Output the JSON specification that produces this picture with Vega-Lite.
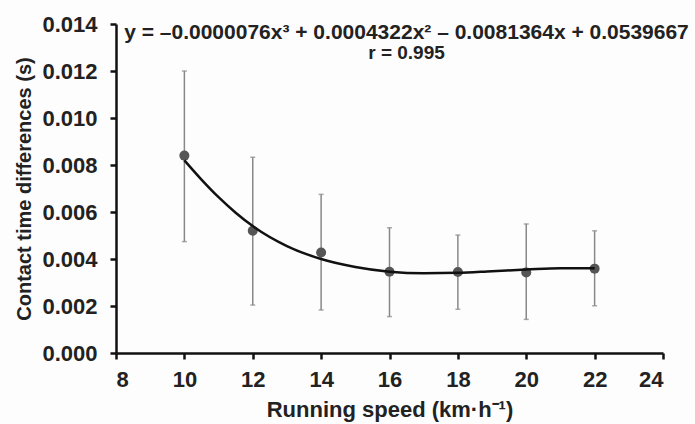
{
  "$schema": "https://vega.github.io/schema/vega-lite/v6.json",
  "width": 547,
  "height": 329,
  "autosize": {"type": "none"},
  "padding": {"left": 116, "top": 24, "right": 32, "bottom": 71},
  "background": "#fdfdfd",
  "title": {
    "text": "y = –0.0000076x³ + 0.0004322x² – 0.0081364x + 0.0539667",
    "subtitle": "r = 0.995",
    "anchor": "middle",
    "orient": "top",
    "offset": -50,
    "dx": 17,
    "font": "Liberation Sans",
    "fontSize": 21,
    "fontWeight": "bold",
    "color": "#222",
    "subtitleFont": "Liberation Sans",
    "subtitleFontSize": 19,
    "subtitleFontWeight": "bold",
    "subtitleColor": "#222",
    "subtitlePadding": 1
  },
  "datasets": {
    "points": [
      {"speed": 10, "diff": 0.0084, "lo": 0.00474, "hi": 0.0120},
      {"speed": 12, "diff": 0.0052, "lo": 0.00204, "hi": 0.00833},
      {"speed": 14, "diff": 0.00428, "lo": 0.00183, "hi": 0.00675},
      {"speed": 16, "diff": 0.00346, "lo": 0.00155, "hi": 0.00533},
      {"speed": 18, "diff": 0.00345, "lo": 0.00186, "hi": 0.00502},
      {"speed": 20, "diff": 0.00343, "lo": 0.00143, "hi": 0.00549},
      {"speed": 22, "diff": 0.00359, "lo": 0.00201, "hi": 0.0052}
    ],
    "curve": [
      {"speed": 10, "fit": 0.0082},
      {"speed": 10.5, "fit": 0.00738},
      {"speed": 11, "fit": 0.00663},
      {"speed": 11.5, "fit": 0.00597},
      {"speed": 12, "fit": 0.0054},
      {"speed": 13, "fit": 0.00455},
      {"speed": 14, "fit": 0.004},
      {"speed": 15, "fit": 0.00366},
      {"speed": 16, "fit": 0.00346},
      {"speed": 17, "fit": 0.00339},
      {"speed": 18, "fit": 0.00341},
      {"speed": 19, "fit": 0.00348},
      {"speed": 20, "fit": 0.00355},
      {"speed": 21, "fit": 0.00361},
      {"speed": 22, "fit": 0.00361}
    ]
  },
  "config": {
    "view": {"stroke": null},
    "axis": {
      "domainColor": "#111",
      "domainWidth": 2.5,
      "tickColor": "#111",
      "tickWidth": 2.5,
      "tickSize": 6,
      "grid": false,
      "labelFont": "Liberation Sans",
      "labelFontSize": 22,
      "labelFontWeight": "bold",
      "labelColor": "#222",
      "titleFont": "Liberation Sans",
      "titleFontWeight": "bold",
      "titleColor": "#222"
    }
  },
  "layer": [
    {
      "data": {"name": "points"},
      "mark": {"type": "rule", "color": "#888", "strokeWidth": 1.5},
      "encoding": {
        "x": {"field": "speed", "type": "quantitative", "scale": {"domain": [8, 24], "nice": false},
              "axis": {"values": [8, 10, 12, 14, 16, 18, 20, 22, 24], "title": "Running speed (km·h⁻¹)", "titleFontSize": 22, "labelPadding": 10, "titlePadding": 9}},
        "y": {"field": "lo", "type": "quantitative", "scale": {"domain": [0, 0.014], "nice": false},
              "axis": {"values": [0, 0.002, 0.004, 0.006, 0.008, 0.01, 0.012, 0.014], "format": ".3f", "title": "Contact time differences (s)", "titleFontSize": 20, "labelPadding": 13, "titlePadding": 7}},
        "y2": {"field": "hi"}
      }
    },
    {
      "data": {"name": "points"},
      "mark": {"type": "tick", "orient": "horizontal", "color": "#888", "size": 5, "thickness": 1.5},
      "encoding": {
        "x": {"field": "speed", "type": "quantitative"},
        "y": {"field": "hi", "type": "quantitative"}
      }
    },
    {
      "data": {"name": "points"},
      "mark": {"type": "tick", "orient": "horizontal", "color": "#888", "size": 5, "thickness": 1.5},
      "encoding": {
        "x": {"field": "speed", "type": "quantitative"},
        "y": {"field": "lo", "type": "quantitative"}
      }
    },
    {
      "data": {"name": "points"},
      "mark": {"type": "circle", "color": "#555", "size": 100, "opacity": 1},
      "encoding": {
        "x": {"field": "speed", "type": "quantitative"},
        "y": {"field": "diff", "type": "quantitative"}
      }
    },
    {
      "data": {"name": "curve"},
      "mark": {"type": "line", "color": "#111", "strokeWidth": 2.5, "interpolate": "monotone"},
      "encoding": {
        "x": {"field": "speed", "type": "quantitative"},
        "y": {"field": "fit", "type": "quantitative"}
      }
    }
  ]
}
